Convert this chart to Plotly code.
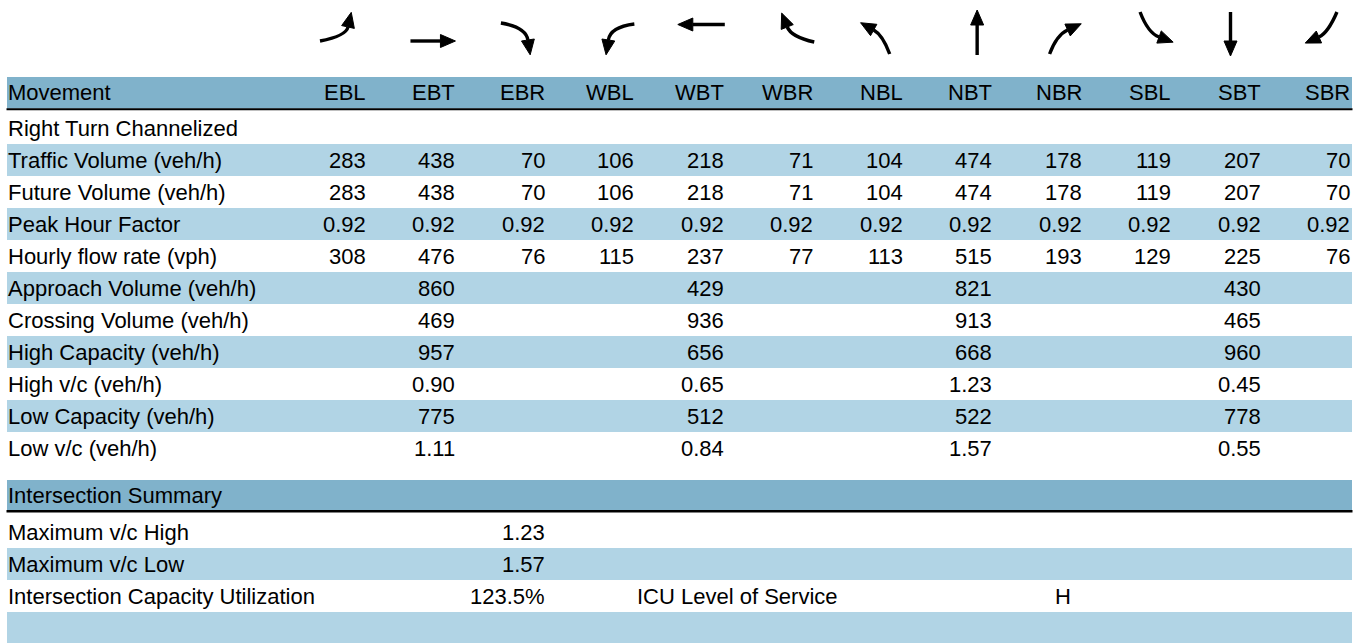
import plotly.graph_objects as go

# ---------------- data ----------------
movements = ["EBL", "EBT", "EBR", "WBL", "WBT", "WBR",
             "NBL", "NBT", "NBR", "SBL", "SBT", "SBR"]

traffic_volume = [283, 438, 70, 106, 218, 71, 104, 474, 178, 119, 207, 70]
future_volume = [283, 438, 70, 106, 218, 71, 104, 474, 178, 119, 207, 70]
peak_hour_factor = [0.92, 0.92, 0.92, 0.92, 0.92, 0.92, 0.92, 0.92, 0.92, 0.92, 0.92, 0.92]
hourly_flow_rate = [308, 476, 76, 115, 237, 77, 113, 515, 193, 129, 225, 76]
approach_volume = [None, 860, None, None, 429, None, None, 821, None, None, 430, None]
crossing_volume = [None, 469, None, None, 936, None, None, 913, None, None, 465, None]
high_capacity = [None, 957, None, None, 656, None, None, 668, None, None, 960, None]
high_vc = [None, 0.90, None, None, 0.65, None, None, 1.23, None, None, 0.45, None]
low_capacity = [None, 775, None, None, 512, None, None, 522, None, None, 778, None]
low_vc = [None, 1.11, None, None, 0.84, None, None, 1.57, None, None, 0.55, None]

max_vc_high = 1.23
max_vc_low = 1.57
icu_pct = 123.5
icu_los = "H"

rows = [
    ("Right Turn Channelized", None, None),
    ("Traffic Volume (veh/h)", traffic_volume, "{:d}"),
    ("Future Volume (veh/h)", future_volume, "{:d}"),
    ("Peak Hour Factor", peak_hour_factor, "{:.2f}"),
    ("Hourly flow rate (vph)", hourly_flow_rate, "{:d}"),
    ("Approach Volume (veh/h)", approach_volume, "{:d}"),
    ("Crossing Volume (veh/h)", crossing_volume, "{:d}"),
    ("High Capacity (veh/h)", high_capacity, "{:d}"),
    ("High v/c (veh/h)", high_vc, "{:.2f}"),
    ("Low Capacity (veh/h)", low_capacity, "{:d}"),
    ("Low v/c (veh/h)", low_vc, "{:.2f}"),
]

# ---------------- layout constants ----------------
W, H = 1367, 643
LEFT, RIGHT = 7, 1352
COL0_RIGHT, COL_PITCH = 366, 89.45
HEADER_TOP, HEADER_BOT = 77, 108.5
ROW0_TOP, ROW_H = 112, 32
SUM_TOP, SUM_BOT = 480, 510.5
SUM_ROW0_TOP = 516
DARK = "#80B2CB"
LIGHT = "#B1D4E5"
FONT = dict(family="Arial, Liberation Sans, sans-serif", size=22, color="black")

col_right = [COL0_RIGHT + i * COL_PITCH for i in range(len(movements))]

fig = go.Figure()
fig.add_trace(go.Scatter(x=[0, W], y=[0, H], mode="markers",
                         marker=dict(opacity=0), hoverinfo="skip"))

shapes = []
annotations = []


def band(y0, y1, color):
    shapes.append(dict(type="rect", xref="x", yref="y", x0=LEFT, x1=RIGHT,
                       y0=y0, y1=y1, fillcolor=color, line=dict(width=0),
                       layer="below"))


def rule(y, w):
    shapes.append(dict(type="line", xref="x", yref="y", x0=LEFT - 0.5, x1=RIGHT + 0.5,
                       y0=y, y1=y, line=dict(color="black", width=w)))


def text(t, x, y, anchor):
    annotations.append(dict(text=t, x=x, y=y, xref="x", yref="y",
                            xanchor=anchor, yanchor="middle", showarrow=False,
                            font=FONT, borderpad=0))


# header
band(HEADER_TOP, HEADER_BOT, DARK)
rule(HEADER_BOT + 0.8, 2)
text("Movement", 7, (HEADER_TOP + HEADER_BOT) / 2, "left")
for m, xr in zip(movements, col_right):
    text(m, xr + 1, (HEADER_TOP + HEADER_BOT) / 2, "right")

# body rows
for i, (label, vals, fmt) in enumerate(rows):
    y0 = ROW0_TOP + i * ROW_H
    yc = y0 + ROW_H / 2
    if i % 2 == 1:
        band(y0, y0 + ROW_H, LIGHT)
    text(label, 7, yc, "left")
    if vals is not None:
        for v, xr in zip(vals, col_right):
            if v is not None:
                text(fmt.format(v), xr + 1, yc, "right")

# summary
band(SUM_TOP, SUM_BOT, DARK)
rule(SUM_BOT + 0.8, 2.5)
text("Intersection Summary", 7, (SUM_TOP + SUM_BOT) / 2, "left")
summary_rows = [
    ("Maximum v/c High", "{:.2f}".format(max_vc_high)),
    ("Maximum v/c Low", "{:.2f}".format(max_vc_low)),
    ("Intersection Capacity Utilization", "{:.1f}%".format(icu_pct)),
    ("", None),
]
for i, (label, val) in enumerate(summary_rows):
    y0 = SUM_ROW0_TOP + i * ROW_H
    yc = y0 + ROW_H / 2
    if i % 2 == 1:
        band(y0, y0 + ROW_H + (1 if i == 3 else 0), LIGHT)
    if label:
        text(label, 7, yc, "left")
    if val is not None:
        text(val, col_right[2] + 1, yc, "right")
icu_y = SUM_ROW0_TOP + 2 * ROW_H + ROW_H / 2
text("ICU Level of Service", col_right[3] + 2, icu_y, "left")
text(icu_los, col_right[8] - 19, icu_y, "center")

# movement arrow glyphs: (tail, control, end) offsets relative to column right edge
glyphs = {
    "EBL": [(-46, 41), (-20, 36), (-18, 27)],
    "EBT": [(-45, 41), None, (-15, 41)],
    "EBR": [(-44, 23), (-19, 27), (-17, 40)],
    "WBL": [(0, 24), (-24, 27), (-26, 40)],
    "WBT": [(1, 24.5), None, (-31, 24.5)],
    "WBR": [(1, 42), (-22, 37), (-26, 27)],
    "NBL": [(-13, 54), (-20, 35), (-29, 30)],
    "NBT": [(-15, 55), None, (-15, 25)],
    "NBR": [(-32, 54), (-25, 35), (-14, 30)],
    "SBL": [(-31, 12), (-23, 33), (-12, 37)],
    "SBT": [(-30, 12), None, (-30, 41)],
    "SBR": [(-13, 12), (-22, 33), (-31, 37)],
}
HEAD_L, HEAD_W = 15, 13
for m, xr in zip(movements, col_right):
    p0, p1, p2 = glyphs[m]
    x0, y0 = xr + p0[0], p0[1]
    x2, y2 = xr + p2[0], p2[1]
    if p1 is None:
        path = f"M {x0},{y0} L {x2},{y2}"
        dx, dy = x2 - x0, y2 - y0
    else:
        x1, y1 = xr + p1[0], p1[1]
        path = f"M {x0},{y0} Q {x1},{y1} {x2},{y2}"
        dx, dy = x2 - x1, y2 - y1
    n = (dx * dx + dy * dy) ** 0.5
    ux, uy = dx / n, dy / n
    px, py = -uy, ux
    tipx, tipy = x2 + ux * HEAD_L, y2 + uy * HEAD_L
    b1x, b1y = x2 + px * HEAD_W / 2, y2 + py * HEAD_W / 2
    b2x, b2y = x2 - px * HEAD_W / 2, y2 - py * HEAD_W / 2
    shapes.append(dict(type="path", xref="x", yref="y", path=path,
                       line=dict(color="black", width=3.4)))
    shapes.append(dict(type="path", xref="x", yref="y",
                       path=f"M {tipx},{tipy} L {b1x},{b1y} L {b2x},{b2y} Z",
                       fillcolor="black", line=dict(color="black", width=1)))

fig.update_layout(
    width=W, height=H, margin=dict(l=0, r=0, t=0, b=0),
    paper_bgcolor="white", plot_bgcolor="white", showlegend=False,
    xaxis=dict(range=[0, W], visible=False, fixedrange=True),
    yaxis=dict(range=[H, 0], visible=False, fixedrange=True),
    shapes=shapes, annotations=annotations,
)

fig.write_html("out.html", config=dict(displayModeBar=False),
               post_script="document.body.style.margin='0';document.body.style.overflow='hidden';")
